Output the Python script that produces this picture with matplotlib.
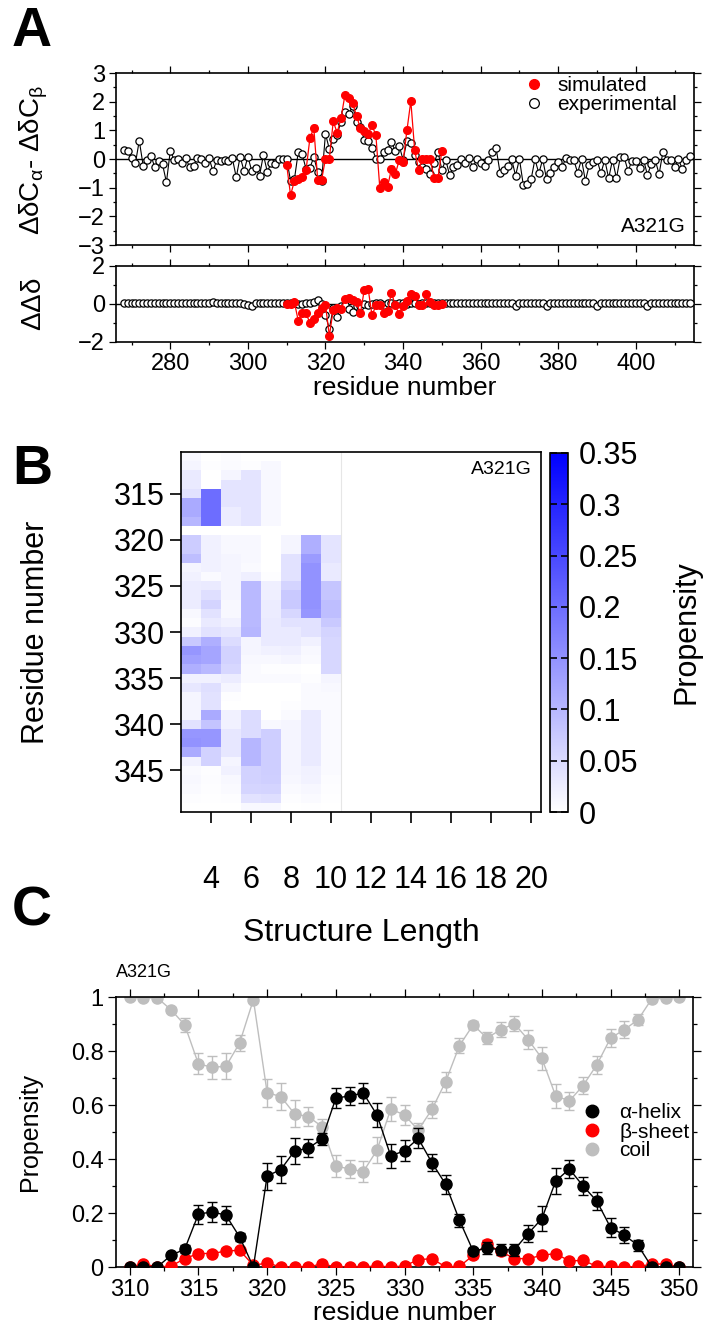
import numpy as np
import matplotlib
matplotlib.use('Agg')
import matplotlib.pyplot as plt
from matplotlib.colors import LinearSegmentedColormap, Normalize
from matplotlib.ticker import MultipleLocator, FixedLocator
from matplotlib.lines import Line2D

plt.rcParams['font.family'] = ['Liberation Sans', 'DejaVu Sans']
plt.rcParams['mathtext.fontset'] = 'custom'
plt.rcParams['mathtext.rm'] = 'Liberation Sans'
plt.rcParams['mathtext.it'] = 'Liberation Sans'
plt.rcParams['mathtext.bf'] = 'Liberation Sans:bold'

# ---------------- Panel A data ----------------
exp_start = 268
exp_dcab = [0.31, 0.28, 0.02, -0.15, 0.64, -0.23, -0.03, 0.12, -0.29, -0.06,
            -0.19, -0.81, 0.29, -0.03, -0.01, -0.15, 0.02, -0.29, -0.23, 0.05,
            0.0, -0.15, 0.02, -0.42, -0.03, -0.07, -0.03, -0.07, 0.02, -0.64,
            0.08, -0.42, 0.08, -0.42, -0.33, -0.58, 0.14, -0.44, -0.15, -0.17,
            -0.01, -0.01, -0.01, -0.76, -0.70, 0.26, 0.16, -0.35, -0.30, 0.07,
            -0.46, -0.75, 0.88, 0.34, 0.71, 0.85, 1.30, 1.65, 1.56, 1.86,
            1.30, 1.12, 0.67, 0.63, 0.39, 0.01, 0.01, 0.25, 0.33, 0.58,
            0.29, 0.47, -0.03, 0.64, 0.56, 0.15, -0.12, -0.29, -0.35, -0.54,
            -0.15, 0.25, -0.38, -0.03, -0.56, -0.29, -0.21, -0.01, -0.13, 0.02,
            -0.29, -0.01, -0.15, -0.24, -0.03, 0.26, 0.37, -0.48, -0.38, -0.24,
            -0.01, -0.58, 0.0, -0.91, -0.87, -0.71, -0.01, -0.50, -0.01, -0.71,
            -0.48, -0.29, -0.09, -0.29, 0.05, -0.03, -0.03, -0.48, -0.01, -0.76,
            -0.21, -0.09, -0.03, -0.50, -0.03, -0.67, -0.03, -0.67, 0.06, 0.06,
            -0.42, -0.06, -0.07, -0.33, -0.03, -0.56, -0.17, -0.03, -0.53, 0.26,
            -0.03, -0.03, -0.29, 0.0, -0.36, -0.03, 0.10]
exp_ddd = [0.05, 0.04, 0.04, 0.04, 0.04, 0.04, 0.04, 0.05, 0.04, 0.04,
           0.04, 0.04, 0.04, 0.04, 0.04, 0.05, 0.04, 0.04, 0.04, 0.04,
           0.04, 0.04, 0.04, 0.10, 0.05, 0.04, 0.04, 0.04, 0.04, 0.04,
           0.04, 0.02, -0.05, -0.12, 0.03, 0.05, 0.05, 0.04, 0.04, 0.04,
           0.04, 0.04, 0.04, 0.04, 0.04, 0.02, 0.0, 0.03, 0.04, 0.10,
           0.19, 0.02, -0.60, -1.30, -0.20, -0.68, -0.10, -0.05, -0.25, -0.40,
           -0.10, -0.10, 0.0, -0.05, 0.02, 0.05, 0.05, -0.05, 0.03, 0.05,
           0.02, 0.05, 0.05, 0.02, 0.05, 0.03, 0.02, 0.04, 0.04, 0.04,
           0.03, 0.04, 0.04, 0.04, 0.04, 0.04, 0.05, 0.04, 0.04, 0.04,
           0.04, 0.04, 0.04, 0.04, 0.04, 0.05, 0.05, 0.04, 0.04, 0.04,
           0.04, -0.10, 0.03, 0.04, 0.04, 0.04, 0.04, 0.04, 0.03, -0.10,
           0.04, 0.04, 0.04, 0.04, 0.04, 0.04, 0.04, 0.04, 0.04, 0.04,
           0.04, 0.04, -0.08, 0.04, 0.04, 0.04, 0.04, 0.04, 0.04, 0.04,
           0.04, 0.04, 0.04, 0.04, 0.04, -0.08, 0.04, 0.04, 0.04, 0.07,
           0.04, 0.04, 0.04, 0.04, 0.04, 0.04, 0.04]
exp_res = np.arange(exp_start, exp_start + len(exp_dcab))

sim_start = 310
sim_dcab = [-0.21, -1.26, -0.76, -0.71, -0.64, -0.38, 0.74, 1.08, -0.73, -0.73,
            0.01, 0.01, 1.31, 0.92, 1.42, 2.22, 2.14, 1.94, 1.51, 1.07,
            0.96, 0.87, 1.18, 0.82, -1.00, -0.79, -0.97, -0.35, -0.52, -0.05,
            -0.09, 1.00, 2.02, 0.30, -0.38, -0.01, -0.01, -0.01, -0.66, -0.66,
            0.28]
sim_dcab_err = [0.04, 0.05, 0.04, 0.04, 0.04, 0.05, 0.12, 0.12, 0.04, 0.04,
                0.04, 0.04, 0.05, 0.05, 0.05, 0.06, 0.05, 0.04, 0.05, 0.05,
                0.05, 0.07, 0.08, 0.05, 0.05, 0.05, 0.05, 0.10, 0.08, 0.08,
                0.12, 0.10, 0.06, 0.05, 0.10, 0.04, 0.04, 0.04, 0.04, 0.04,
                0.04]
sim_ddd = [0.0, 0.0, 0.08, -0.90, -0.50, -0.50, -1.00, -0.80, -0.45, -0.20,
           -0.05, -1.68, -0.30, -0.22, -0.28, 0.25, 0.30, 0.20, 0.10, -0.50,
           0.74, 0.80, -0.60, -0.07, -0.05, -0.45, -0.39, 0.60, -0.07, -0.55,
           -0.12, 0.15, 0.54, 0.40, -0.07, -0.07, 0.50, 0.08, -0.03, -0.03,
           0.0]
sim_ddd_err = [0.03, 0.03, 0.03, 0.05, 0.05, 0.05, 0.05, 0.05, 0.05, 0.05,
               0.05, 0.08, 0.05, 0.05, 0.05, 0.05, 0.05, 0.05, 0.05, 0.05,
               0.12, 0.12, 0.05, 0.05, 0.05, 0.05, 0.05, 0.10, 0.05, 0.05,
               0.05, 0.05, 0.05, 0.05, 0.05, 0.05, 0.05, 0.05, 0.03, 0.03,
               0.03]
sim_res = np.arange(sim_start, sim_start + len(sim_dcab))

# ---------------- Panel B data ----------------
heat_rows = np.arange(311, 350)
heat_lengths = np.arange(3, 11)
heat_vals = [
    [0.010, 0.000, 0.005, 0.000, 0.000, 0.000, 0.000, 0.000],  # 311
    [0.015, 0.004, 0.006, 0.003, 0.010, 0.000, 0.000, 0.000],  # 312
    [0.030, 0.000, 0.015, 0.037, 0.010, 0.000, 0.000, 0.000],  # 313
    [0.030, 0.000, 0.037, 0.037, 0.010, 0.000, 0.000, 0.000],  # 314
    [0.040, 0.200, 0.037, 0.037, 0.010, 0.000, 0.000, 0.000],  # 315
    [0.117, 0.200, 0.037, 0.037, 0.010, 0.000, 0.000, 0.000],  # 316
    [0.117, 0.200, 0.027, 0.037, 0.010, 0.000, 0.000, 0.000],  # 317
    [0.100, 0.200, 0.027, 0.037, 0.010, 0.000, 0.000, 0.000],  # 318
    [0.000, 0.000, 0.000, 0.000, 0.000, 0.000, 0.000, 0.000],  # 319
    [0.070, 0.020, 0.010, 0.010, 0.000, 0.014, 0.110, 0.037],  # 320
    [0.070, 0.020, 0.010, 0.010, 0.000, 0.014, 0.110, 0.037],  # 321
    [0.090, 0.020, 0.014, 0.010, 0.000, 0.040, 0.137, 0.037],  # 322
    [0.014, 0.020, 0.014, 0.007, 0.000, 0.040, 0.150, 0.030],  # 323
    [0.020, 0.007, 0.014, 0.023, 0.004, 0.040, 0.150, 0.030],  # 324
    [0.027, 0.030, 0.014, 0.096, 0.023, 0.060, 0.150, 0.080],  # 325
    [0.027, 0.045, 0.014, 0.096, 0.023, 0.075, 0.150, 0.080],  # 326
    [0.027, 0.060, 0.010, 0.096, 0.027, 0.075, 0.150, 0.090],  # 327
    [0.010, 0.040, 0.010, 0.096, 0.027, 0.055, 0.144, 0.090],  # 328
    [0.005, 0.030, 0.020, 0.096, 0.030, 0.040, 0.040, 0.075],  # 329
    [0.020, 0.040, 0.034, 0.100, 0.030, 0.030, 0.040, 0.060],  # 330
    [0.075, 0.110, 0.048, 0.014, 0.030, 0.030, 0.020, 0.055],  # 331
    [0.144, 0.124, 0.062, 0.014, 0.020, 0.023, 0.010, 0.055],  # 332
    [0.130, 0.124, 0.062, 0.010, 0.010, 0.014, 0.007, 0.055],  # 333
    [0.110, 0.096, 0.055, 0.007, 0.004, 0.004, 0.000, 0.055],  # 334
    [0.020, 0.020, 0.027, 0.007, 0.007, 0.007, 0.004, 0.014],  # 335
    [0.034, 0.045, 0.014, 0.000, 0.000, 0.000, 0.007, 0.010],  # 336
    [0.014, 0.040, 0.004, 0.000, 0.000, 0.000, 0.007, 0.007],  # 337
    [0.014, 0.040, 0.000, 0.000, 0.000, 0.004, 0.007, 0.007],  # 338
    [0.014, 0.117, 0.020, 0.048, 0.000, 0.007, 0.030, 0.007],  # 339
    [0.040, 0.082, 0.020, 0.048, 0.010, 0.014, 0.030, 0.007],  # 340
    [0.144, 0.144, 0.034, 0.048, 0.068, 0.014, 0.030, 0.007],  # 341
    [0.150, 0.144, 0.034, 0.100, 0.068, 0.014, 0.030, 0.007],  # 342
    [0.117, 0.062, 0.034, 0.100, 0.068, 0.014, 0.030, 0.007],  # 343
    [0.020, 0.062, 0.014, 0.100, 0.068, 0.014, 0.030, 0.007],  # 344
    [0.007, 0.004, 0.020, 0.062, 0.068, 0.014, 0.020, 0.007],  # 345
    [0.010, 0.005, 0.010, 0.062, 0.066, 0.012, 0.018, 0.005],  # 346
    [0.008, 0.004, 0.008, 0.058, 0.060, 0.008, 0.012, 0.004],  # 347
    [0.004, 0.002, 0.004, 0.040, 0.045, 0.004, 0.008, 0.002],  # 348
    [0.000, 0.000, 0.000, 0.010, 0.010, 0.000, 0.002, 0.000],  # 349
]
cbar_ticks = [0, 0.05, 0.1, 0.15, 0.2, 0.25, 0.3, 0.35]
cbar_labels = ['0', '0.05', '0.1', '0.15', '0.2', '0.25', '0.3', '0.35']

# ---------------- Panel C data ----------------
c_res = np.arange(310, 351)
helix = [0.0, 0.0, 0.0, 0.043, 0.066, 0.196, 0.204, 0.192, 0.111, 0.0,
         0.337, 0.361, 0.430, 0.440, 0.475, 0.625, 0.634, 0.644, 0.563, 0.411,
         0.431, 0.476, 0.386, 0.306, 0.173, 0.059, 0.070, 0.064, 0.064, 0.124,
         0.179, 0.318, 0.363, 0.300, 0.244, 0.146, 0.118, 0.080, 0.0, 0.0,
         0.0]
helix_err = [0.0, 0.0, 0.0, 0.01, 0.015, 0.035, 0.036, 0.034, 0.015, 0.0,
             0.05, 0.051, 0.048, 0.033, 0.022, 0.037, 0.033, 0.037, 0.045, 0.043,
             0.038, 0.037, 0.031, 0.034, 0.025, 0.012, 0.022, 0.02, 0.023, 0.033,
             0.046, 0.048, 0.034, 0.032, 0.034, 0.035, 0.03, 0.02, 0.0, 0.0,
             0.0]
sheet = [0.0, 0.012, 0.0, 0.003, 0.031, 0.050, 0.050, 0.059, 0.062, 0.006,
         0.015, 0.0, 0.0, 0.0, 0.012, 0.0, 0.0, 0.0, 0.004, 0.0,
         0.004, 0.027, 0.031, 0.0, 0.002, 0.043, 0.084, 0.058, 0.031, 0.031,
         0.043, 0.050, 0.022, 0.025, 0.002, 0.002, 0.0, 0.002, 0.010, 0.012,
         0.0]
sheet_err = [0.0, 0.005, 0.0, 0.003, 0.008, 0.01, 0.01, 0.01, 0.01, 0.004,
             0.006, 0.0, 0.0, 0.0, 0.005, 0.0, 0.0, 0.0, 0.003, 0.0,
             0.003, 0.006, 0.006, 0.0, 0.002, 0.01, 0.015, 0.01, 0.008, 0.008,
             0.008, 0.01, 0.006, 0.006, 0.002, 0.002, 0.0, 0.002, 0.004, 0.005,
             0.0]
coil = [1.0, 0.996, 0.997, 0.953, 0.897, 0.752, 0.740, 0.743, 0.830, 0.990,
        0.646, 0.631, 0.567, 0.557, 0.520, 0.374, 0.363, 0.353, 0.433, 0.585,
        0.563, 0.507, 0.584, 0.687, 0.820, 0.897, 0.848, 0.879, 0.901, 0.842,
        0.773, 0.634, 0.615, 0.672, 0.749, 0.848, 0.879, 0.916, 0.993, 0.995,
        1.0]
coil_err = [0.0, 0.0, 0.0, 0.01, 0.026, 0.039, 0.043, 0.048, 0.031, 0.01,
            0.052, 0.051, 0.05, 0.035, 0.029, 0.039, 0.035, 0.039, 0.048, 0.043,
            0.037, 0.025, 0.031, 0.037, 0.028, 0.015, 0.021, 0.027, 0.028, 0.035,
            0.042, 0.045, 0.033, 0.032, 0.034, 0.033, 0.031, 0.021, 0.0, 0.0,
            0.0]

RED = '#ff0000'
GRAY = '#bebebe'

W, H = 707, 1339
fig = plt.figure(figsize=(W / 100, H / 100), dpi=100)


def rect(x0, y0, x1, y1):
    return [x0 / W, 1 - y1 / H, (x1 - x0) / W, (y1 - y0) / H]


def style_ticks(ax, size, major=5, minor=2.5):
    ax.tick_params(which='both', direction='out', top=True, right=True,
                   width=0.9, labelsize=size, pad=3)
    ax.tick_params(which='major', length=major)
    ax.tick_params(which='minor', length=minor)
    for s in ax.spines.values():
        s.set_linewidth(1.2)


# ---------------- Panel A top ----------------
axA = fig.add_axes(rect(116, 73, 694, 245))
axA.axhline(0, color='k', lw=1.0, zorder=1)
axA.plot(exp_res, exp_dcab, '-', color='k', lw=0.8, zorder=2)
axA.plot(exp_res, exp_dcab, 'o', mfc='white', mec='k', ms=5.2, mew=0.9,
         zorder=3)
axA.errorbar(sim_res, sim_dcab, yerr=sim_dcab_err, fmt='-o', color=RED,
             ms=5.5, lw=0.9, elinewidth=0.9, capsize=1.8, zorder=4)
axA.set_xlim(266, 415)
axA.set_ylim(-3, 3)
axA.yaxis.set_major_locator(MultipleLocator(1))
axA.yaxis.set_minor_locator(MultipleLocator(0.5))
axA.xaxis.set_major_locator(MultipleLocator(20))
axA.xaxis.set_minor_locator(MultipleLocator(10))
style_ticks(axA, 17)
axA.tick_params(labelbottom=False)
hA = [Line2D([], [], ls='none', marker='o', color=RED, ms=7),
      Line2D([], [], ls='none', marker='o', mfc='white', mec='k', ms=7, mew=0.9)]
axA.legend(hA, ['simulated', 'experimental'], loc='upper right',
           bbox_to_anchor=(0.985, 1.03), frameon=False,
           fontsize=15, handlelength=1.0, handletextpad=0.6, labelspacing=0.0,
           borderaxespad=0.0)
axA.text(0.985, 0.05, 'A321G', transform=axA.transAxes, ha='right',
         va='bottom', fontsize=15)

# ---------------- Panel A bottom ----------------
axA2 = fig.add_axes(rect(116, 266, 694, 342))
axA2.axhline(0, color='k', lw=1.0, zorder=1)
axA2.plot(exp_res, exp_ddd, '-', color='k', lw=0.8, zorder=2)
axA2.plot(exp_res, exp_ddd, 'o', mfc='white', mec='k', ms=5.2, mew=0.9,
          zorder=3)
axA2.errorbar(sim_res, sim_ddd, yerr=sim_ddd_err, fmt='-o', color=RED,
              ms=5.5, lw=0.9, elinewidth=0.9, capsize=1.8, zorder=4)
axA2.set_xlim(266, 415)
axA2.set_ylim(-2, 2)
axA2.yaxis.set_major_locator(MultipleLocator(2))
axA2.yaxis.set_minor_locator(MultipleLocator(1))
axA2.xaxis.set_major_locator(MultipleLocator(20))
axA2.xaxis.set_minor_locator(MultipleLocator(10))
style_ticks(axA2, 17)
axA2.set_xlabel('residue number', fontsize=19, labelpad=1)

fig.text(34 / W, 1 - 160 / H, r'$\Delta\delta$C$_{\alpha}$- $\Delta\delta$C$_{\beta}$',
         rotation=90, ha='center', va='center', fontsize=20)
fig.text(34 / W, 1 - 304 / H, r'$\Delta\Delta\delta$', rotation=90,
         ha='center', va='center', fontsize=20)

# ---------------- Panel B ----------------
axB = fig.add_axes(rect(181, 452, 541, 812))
cmap = LinearSegmentedColormap.from_list('wb', ['#ffffff', '#0000ff'])
norm = Normalize(vmin=0, vmax=0.35)
hv = np.array(heat_vals)
xe = np.concatenate([heat_lengths - 0.5, [heat_lengths[-1] + 0.5]])
ye = np.concatenate([heat_rows - 0.5, [heat_rows[-1] + 0.5]])
mesh = axB.pcolormesh(xe, ye, hv, cmap=cmap, norm=norm, shading='flat')
axB.axvline(heat_lengths[-1] + 0.5, color='#e6e6e6', lw=0.8)
axB.set_xlim(2.5, 20.5)
axB.set_ylim(349.5, 310.5)
axB.xaxis.set_major_locator(FixedLocator(np.arange(4, 21, 2)))
axB.yaxis.set_major_locator(FixedLocator(np.arange(315, 350, 5)))
axB.tick_params(direction='out', length=8, width=1.2, labelsize=22,
                top=False, right=False)
axB.tick_params(axis='x', pad=30)
for s in axB.spines.values():
    s.set_linewidth(1.2)
axB.set_xlabel('Structure Length', fontsize=23, labelpad=17)
axB.text(0.975, 0.975, 'A321G', transform=axB.transAxes, ha='right',
         va='top', fontsize=14)
fig.text(36 / W, 1 - 632 / H, 'Residue number', rotation=90, ha='center',
         va='center', fontsize=22)

axCb = fig.add_axes(rect(550, 453, 568, 812))
cb = fig.colorbar(mesh, cax=axCb, ticks=cbar_ticks)
cb.ax.set_yticklabels(cbar_labels)
cb.ax.tick_params(direction='in', length=5, width=1.2, labelsize=22,
                  left=True, right=True, pad=8)
cb.outline.set_linewidth(1.2)
fig.text(686 / W, 1 - 632 / H, 'Propensity', rotation=90, ha='center',
         va='center', fontsize=22)

# ---------------- Panel C ----------------
axC = fig.add_axes(rect(116, 997, 693, 1267))
ek = dict(fmt='-o', ms=8, lw=1.0, elinewidth=1.0, capsize=3.6, capthick=1.0)
axC.errorbar(c_res, coil, yerr=coil_err, color=GRAY, zorder=2, **ek)
axC.errorbar(c_res, sheet, yerr=sheet_err, color=RED, zorder=3, **ek)
axC.errorbar(c_res, helix, yerr=helix_err, color='k', zorder=4, **ek)
axC.set_xlim(309, 351)
axC.set_ylim(0, 1)
axC.xaxis.set_major_locator(MultipleLocator(5))
axC.xaxis.set_minor_locator(MultipleLocator(2.5))
axC.yaxis.set_major_locator(MultipleLocator(0.2))
axC.yaxis.set_minor_locator(MultipleLocator(0.1))
axC.yaxis.set_major_formatter(plt.FuncFormatter(lambda v, p: f'{v:g}'))
style_ticks(axC, 17, major=6, minor=3)
axC.set_xlabel('residue number', fontsize=19, labelpad=0)
fig.text(30 / W, 1 - 1132 / H, 'Propensity', rotation=90, ha='center',
         va='center', fontsize=18)
hC = [Line2D([], [], ls='none', marker='o', color=c, ms=9)
      for c in ['k', RED, GRAY]]
axC.legend(hC, ['α-helix', 'β-sheet', 'coil'], loc='center right',
           bbox_to_anchor=(1.012, 0.5), frameon=False, fontsize=15,
           handlelength=0.8, handletextpad=0.9, labelspacing=0.0,
           borderaxespad=0.1)
axC.text(0.0, 1.06, 'A321G', transform=axC.transAxes, ha='left',
         va='bottom', fontsize=13)

# panel letters
for lab, y in [('A', 32), ('B', 470), ('C', 912)]:
    fig.text(32 / W, 1 - y / H, lab, ha='center', va='center', fontsize=40,
             fontweight='bold')

fig.savefig('out.png', dpi=100)
